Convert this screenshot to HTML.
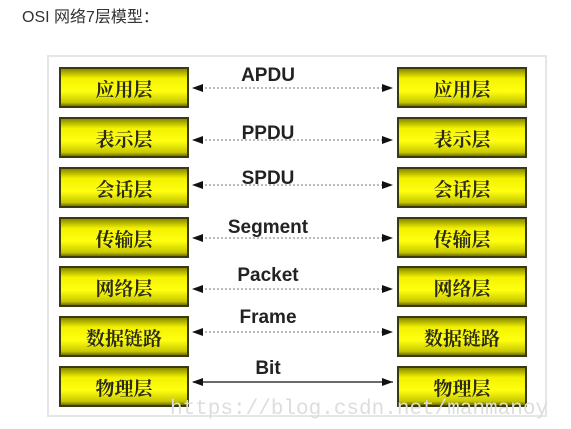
<!DOCTYPE html>
<html><head><meta charset="utf-8"><style>
body{margin:0;width:571px;height:429px;background:#fff;position:relative;overflow:hidden;font-family:"Liberation Sans","Noto Sans CJK SC",sans-serif}
.h{position:absolute;left:22px;top:3px;font-size:16px;color:#333}
.f{position:absolute;left:47px;top:55px;width:500px;height:362px;border:2px solid #e6e6e6;box-sizing:border-box}
.b{position:absolute;width:130px;height:41px;box-sizing:border-box;border:2px solid #3a3a10;background:linear-gradient(#8a8a00 0%,#f2f200 25%,#ffff10 60%,#c8c800 90%,#707000 100%);font-family:"Noto Serif CJK SC","Noto Sans CJK SC",serif;font-weight:bold;font-size:19px;color:#2a2a1a;text-align:center;line-height:39px}
.l{position:absolute;font-weight:bold;font-size:19px;color:#222;width:200px;text-align:center;left:168px}
.w{position:absolute;left:170px;top:398px;font-family:"Liberation Mono",monospace;font-size:21px;color:#ddd}
</style></head><body>
<div class="h">OSI 网络7层模型：</div>
<div class="f"></div>
<svg style="position:absolute;left:0;top:0" width="571" height="429">
<defs><marker id="a" markerUnits="userSpaceOnUse" markerWidth="12" markerHeight="10" refX="11" refY="5" orient="auto"><path d="M0,1 L11,5 L0,9z" fill="#111"/></marker>
<marker id="s" markerUnits="userSpaceOnUse" markerWidth="12" markerHeight="10" refX="1" refY="5" orient="auto"><path d="M11,1 L0,5 L11,9z" fill="#111"/></marker></defs>
<g stroke="#777" stroke-width="1" stroke-dasharray="2,2" marker-end="url(#a)" marker-start="url(#s)">
<line x1="193" y1="88" x2="393" y2="88"/>
<line x1="193" y1="140" x2="393" y2="140"/>
<line x1="193" y1="185" x2="393" y2="185"/>
<line x1="193" y1="238" x2="393" y2="238"/>
<line x1="193" y1="289" x2="393" y2="289"/>
<line x1="193" y1="332" x2="393" y2="332"/>
</g>
<line x1="193" y1="382" x2="393" y2="382" stroke="#111" stroke-width="1.3" marker-end="url(#a)" marker-start="url(#s)"/>
</svg>
<div class="l" style="top:65px">APDU</div>
<div class="l" style="top:123px">PPDU</div>
<div class="l" style="top:168px">SPDU</div>
<div class="l" style="top:217px">Segment</div>
<div class="l" style="top:265px">Packet</div>
<div class="l" style="top:307px">Frame</div>
<div class="l" style="top:358px">Bit</div>
<div class="b" style="left:59px;top:67px">应用层</div><div class="b" style="left:397px;top:67px">应用层</div>
<div class="b" style="left:59px;top:117px">表示层</div><div class="b" style="left:397px;top:117px">表示层</div>
<div class="b" style="left:59px;top:167px">会话层</div><div class="b" style="left:397px;top:167px">会话层</div>
<div class="b" style="left:59px;top:217px">传输层</div><div class="b" style="left:397px;top:217px">传输层</div>
<div class="b" style="left:59px;top:266px">网络层</div><div class="b" style="left:397px;top:266px">网络层</div>
<div class="b" style="left:59px;top:316px">数据链路</div><div class="b" style="left:397px;top:316px">数据链路</div>
<div class="b" style="left:59px;top:366px">物理层</div><div class="b" style="left:397px;top:366px">物理层</div>
<div class="w">https://blog.csdn.net/manmanoy</div>
</body></html>
